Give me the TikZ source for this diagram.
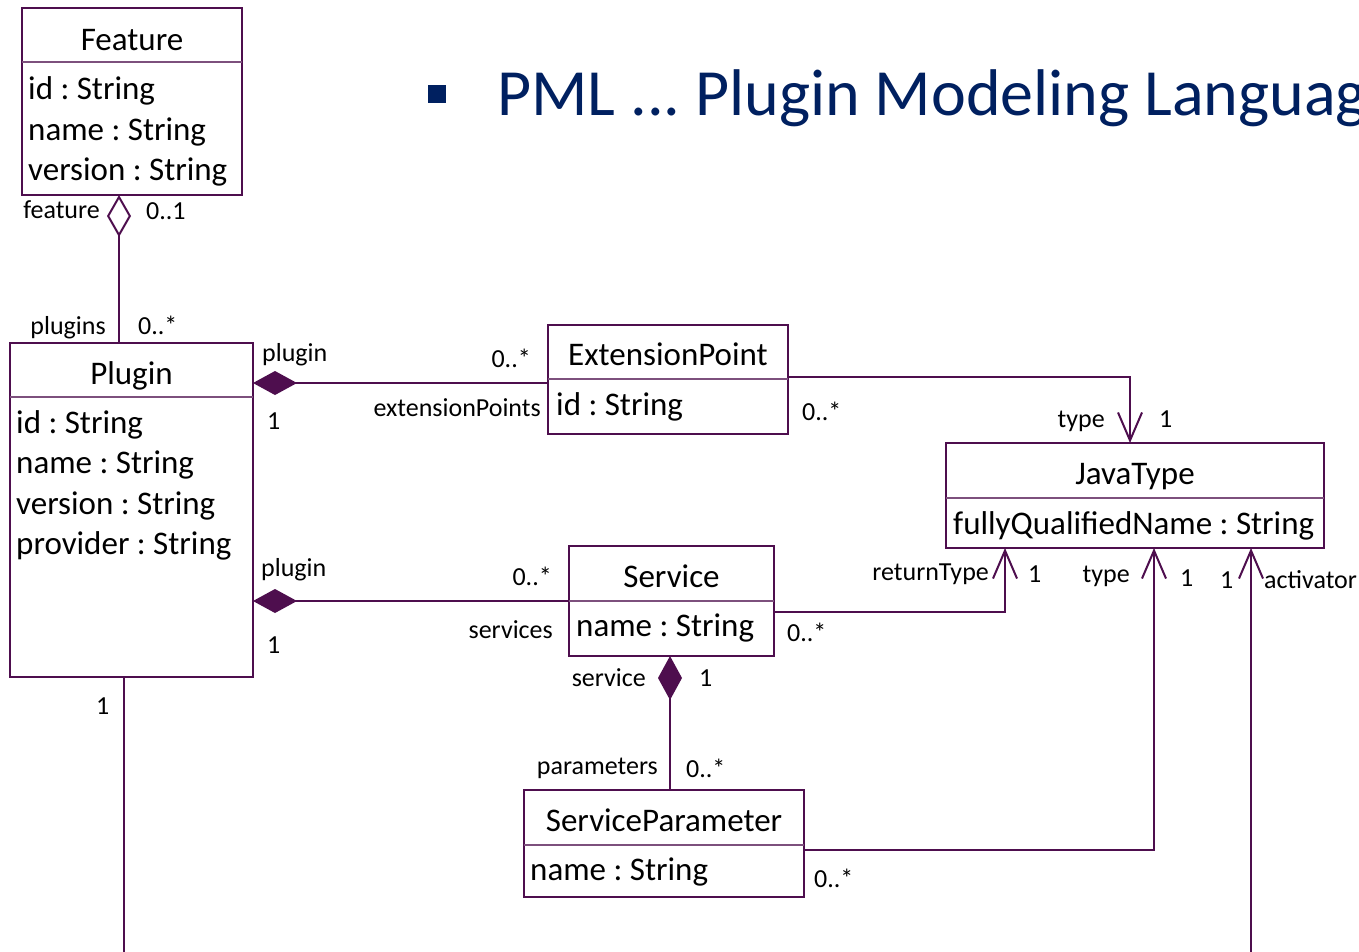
\documentclass[tikz,border=0pt]{standalone}
\usepackage{fontspec}
\setmainfont{Carlito}
\frenchspacing
\usetikzlibrary{arrows.meta}
\definecolor{umlline}{RGB}{78,14,78}
\definecolor{umldiv}{RGB}{125,80,125}
\definecolor{titleblue}{RGB}{0,32,96}
\tikzset{
classbox/.style={rectangle,draw=umlline,line width=2pt,inner sep=0pt,outer sep=0pt},
divider/.style={draw=umldiv,line width=1.2pt},
head/.style={anchor=base,inner sep=0pt,font=\fontsize{33}{40}\selectfont},
attr/.style={anchor=base west,inner sep=0pt,font=\fontsize{33}{40}\selectfont},
role/.style={inner sep=0pt,font=\fontsize{26}{30}\selectfont},
assoc/.style={draw=umlline,line width=2pt},
comp/.style={assoc,{Diamond[length=44pt,width=24pt,fill=umlline]}-},
aggr/.style={assoc,{Diamond[open,length=42pt,width=24pt]}-},
nav/.style={assoc,-{Straight Barb[length=28pt,width=24pt]}},
}

\begin{document}
\begin{tikzpicture}[x=1pt,y=-1pt]
\useasboundingbox (0,0) rectangle (1359,951);
\fill[white] (0,0) rectangle (1359,951);
\clip (0,0) rectangle (1359,951);

% title
\node[fill=titleblue,minimum size=18pt,inner sep=0pt] (bullet) at (437,93.5) {};
\node[anchor=base west,inner sep=0pt,text=titleblue,font=\fontsize{66}{74}\selectfont] (title) at (497,115) {PML ... Plugin Modeling Language};

% Feature
\node[classbox,minimum width=220pt,minimum height=187pt] (feature) at (132,101.5) {};
\draw[divider] ([yshift=-54pt]feature.north west) -- ([yshift=-54pt]feature.north east);
\node[head] (feature-name) at (132,50) {Feature};
\node[attr] (feature-a1) at (28,99) {id : String};
\node[attr] (feature-a2) at (28,140) {name : String};
\node[attr] (feature-a3) at (28,180) {version : String};

% Plugin
\node[classbox,minimum width=243pt,minimum height=334pt] (plugin) at (131.5,510) {};
\draw[divider] ([yshift=-54pt]plugin.north west) -- ([yshift=-54pt]plugin.north east);
\node[head] (plugin-name) at (131.5,384) {Plugin};
\node[attr] (plugin-a1) at (16,433) {id : String};
\node[attr] (plugin-a2) at (16,473.5) {name : String};
\node[attr] (plugin-a3) at (16,514) {version : String};
\node[attr] (plugin-a4) at (16,554.5) {provider : String};

% ExtensionPoint
\node[classbox,minimum width=240pt,minimum height=109pt] (ep) at (668,379.5) {};
\draw[divider] ([yshift=-54pt]ep.north west) -- ([yshift=-54pt]ep.north east);
\node[head] (ep-name) at (668,365) {ExtensionPoint};
\node[attr] (ep-a1) at (556,415) {id : String};

% JavaType
\node[classbox,minimum width=378pt,minimum height=105pt] (javatype) at (1135,495.5) {};
\draw[divider] ([yshift=-55pt]javatype.north west) -- ([yshift=-55pt]javatype.north east);
\node[head] (javatype-name) at (1135,484) {JavaType};
\node[attr] (javatype-a1) at (953,534) {fullyQualifiedName : String};

% Service
\node[classbox,minimum width=205pt,minimum height=110pt] (service) at (671.5,601) {};
\draw[divider] ([yshift=-55pt]service.north west) -- ([yshift=-55pt]service.north east);
\node[head] (service-name) at (671.5,587) {Service};
\node[attr] (service-a1) at (576,636) {name : String};

% ServiceParameter
\node[classbox,minimum width=280pt,minimum height=107pt] (sp) at (664,843.5) {};
\draw[divider] ([yshift=-55pt]sp.north west) -- ([yshift=-55pt]sp.north east);
\node[head] (sp-name) at (664,831) {ServiceParameter};
\node[attr] (sp-a1) at (530,880) {name : String};

% associations
\coordinate (agg-top) at ([xshift=-13pt]feature.south);
\draw[aggr] (agg-top) -- (agg-top |- plugin.north);

\coordinate (ep-in) at ([yshift=-3.5pt]ep.west);
\draw[comp] (ep-in -| plugin.east) -- (ep-in);

\draw[comp] (service.west -| plugin.east) -- (service.west);

\coordinate (srv-bot) at ([xshift=-1.5pt]service.south);
\draw[comp] (srv-bot) -- (srv-bot |- sp.north);

\coordinate (ep-out) at ([yshift=2.5pt]ep.east);
\coordinate (jt-top) at ([xshift=-5pt]javatype.north);
\draw[nav] (ep-out) -| (jt-top);

\coordinate (srv-out) at ([yshift=-11pt]service.east);
\coordinate (jt-ret) at ([xshift=-130pt]javatype.south);
\draw[nav] (srv-out) -| (jt-ret);

\coordinate (sp-out) at ([yshift=-6.5pt]sp.east);
\coordinate (jt-type) at ([xshift=19pt]javatype.south);
\draw[nav] (sp-out) -| (jt-type);

\coordinate (act-src) at ([xshift=-7.5pt]plugin.south);
\coordinate (act-low) at (124,960);
\draw[assoc] (act-src) -- (act-low);
\coordinate (act-dst) at ([xshift=116pt]javatype.south);
\coordinate (act-up) at (1251,960);
\draw[nav] (act-up) -- (act-dst);

% roles and multiplicities
\node[role,anchor=base east] (r-feature) at (100,218) {feature};
\node[role,anchor=base west] (m-feature) at (146,219) {0..1};
\node[role,anchor=base east] (r-plugins) at (106,334) {plugins};
\node[role,anchor=base west] (m-plugins) at (138,334) {0..*};
\node[role,anchor=base west] (r-plugin1) at (262,361) {plugin};
\node[role,anchor=base west] (m-plugin1) at (267,429) {1};
\node[role,anchor=base east] (m-extpts) at (531,367) {0..*};
\node[role,anchor=base east] (r-extpts) at (541,416) {extensionPoints};
\node[role,anchor=base west] (m-eptype) at (802,420) {0..*};
\node[role,anchor=base east] (r-eptype) at (1105,427) {type};
\node[role,anchor=base west] (m-eptype1) at (1159,427) {1};
\node[role,anchor=base west] (r-plugin2) at (261,576) {plugin};
\node[role,anchor=base east] (m-services) at (552,585) {0..*};
\node[role,anchor=base west] (m-plugin2) at (267,653) {1};
\node[role,anchor=base east] (r-services) at (553,638) {services};
\node[role,anchor=base west] (m-ret) at (787,641) {0..*};
\node[role,anchor=base east] (r-ret) at (989,580) {returnType};
\node[role,anchor=base west] (m-ret1) at (1028,582) {1};
\node[role,anchor=base east] (r-sptype) at (1130,582) {type};
\node[role,anchor=base west] (m-sptype1) at (1180,586) {1};
\node[role,anchor=base west] (m-act1) at (1220,588) {1};
\node[role,anchor=base west] (r-act) at (1264,588) {activator};
\node[role,anchor=base east] (r-service) at (646,686) {service};
\node[role,anchor=base west] (m-service1) at (699,686) {1};
\node[role,anchor=base east] (r-params) at (658,774) {parameters};
\node[role,anchor=base west] (m-params) at (686,777) {0..*};
\node[role,anchor=base west] (m-sptype) at (814,887) {0..*};
\node[role,anchor=base west] (m-act) at (96,714) {1};
\end{tikzpicture}
\end{document}
